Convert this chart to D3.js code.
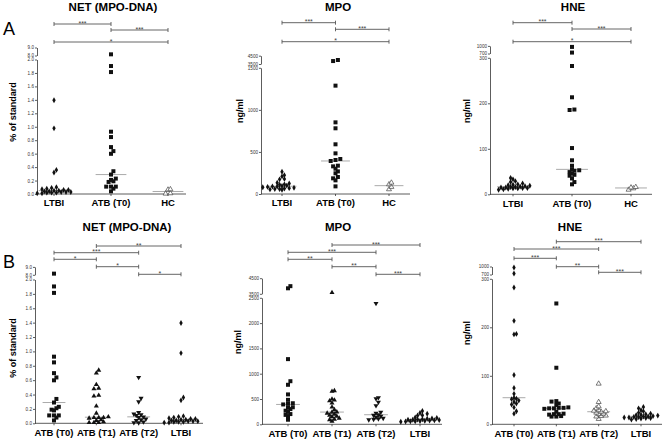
<!DOCTYPE html>
<html>
<head>
<meta charset="utf-8">
<script src="https://cdn.jsdelivr.net/npm/d3@7/dist/d3.min.js"></script>
<style>
  body { margin: 0; background: #fff; }
  text { font-family: "Liberation Sans", Arial, sans-serif; }
</style>
</head>
<body>
<svg id="fig" width="668" height="443"></svg>
<script>
// ---- data ----
var catsA = ['LTBI', 'ATB (T0)', 'HC'];
var catsB = ['ATB (T0)', 'ATB (T1)', 'ATB (T2)', 'LTBI'];

var netLTBI = [1.40, 0.98, 0.36, 0.32, 0.10, 0.09, 0.08, 0.07, 0.06, 0.06, 0.05, 0.05, 0.04, 0.04, 0.03, 0.03, 0.03, 0.02, 0.02, 0.02, 0.01, 0.01];
var netT0 = [8.1, 1.91, 1.82, 0.93, 0.85, 0.70, 0.64, 0.60, 0.34, 0.29, 0.23, 0.21, 0.19, 0.18, 0.11, 0.11, 0.11, 0.08, 0.04];
var netHC = [0.07, 0.065, 0.01, 0.005];
var netT1 = [0.74, 0.70, 0.54, 0.49, 0.48, 0.39, 0.38, 0.24, 0.14, 0.09, 0.08, 0.08, 0.08, 0.07, 0.05, 0.04, 0.02, 0.01, 0.01, 0.01];
var netT2 = [0.64, 0.35, 0.30, 0.15, 0.13, 0.12, 0.11, 0.09, 0.08, 0.06, 0.05, 0.04, 0.02, 0.01, 0.01];

var mpoLTBI = [265, 225, 210, 180, 175, 135, 125, 115, 110, 100, 95, 90, 90, 85, 80, 75, 70, 65, 60, 60, 55, 50];
var mpoT0 = [4000, 3850, 1293, 855, 784, 593, 485, 418, 406, 394, 338, 330, 302, 270, 247, 203, 187, 163, 91];
var mpoHC = [135, 115, 84, 56];
var mpoT1 = [3550, 667, 653, 500, 480, 465, 420, 340, 290, 245, 240, 220, 200, 180, 160, 150, 120, 100, 90, 60];
var mpoT2 = [2400, 530, 510, 440, 370, 240, 220, 190, 180, 160, 140, 120, 110, 100, 90];

var hneLTBI = [36, 33, 29, 27, 24, 22, 21, 20, 19, 18, 17, 16, 16, 15, 15, 14, 14, 13, 13, 12, 11, 10];
var hneT0 = [990, 720, 283, 214, 187, 186, 102, 75, 63, 55, 53, 52, 49, 46, 43, 41, 35, 27, 22];
var hneHC = [16, 10, 13, 15];
var hneT1 = [250, 117, 48, 47, 43, 40, 35, 34, 34, 33, 33, 32, 26, 22, 21, 21, 20, 17, 16, 16];
var hneT2 = [84, 46, 37, 33, 29, 28, 27, 26, 24, 22, 21, 18, 17, 16, 11];

// tick labels (lower and upper part of each broken axis)
var netTicksLow = [0, 0.2, 0.4, 0.6, 0.8, 1.0, 1.2, 1.4, 1.6, 1.8, 2.0];
var netTicksHigh = [8.0, 9.0];
var mpoTicksLowA = [0, 500, 1000, 1500];
var mpoTicksLowB = [0, 500, 1000, 1500, 2000, 2500];
var mpoTicksHigh = [3500, 4500];
var hneTicksLow = [0, 100, 200, 300];
var hneTicksHigh = [700, 1000];

// significance brackets
var pairsA = [[0, 1], [1, 2], [0, 2]];
var pairsB = [[1, 3], [0, 2], [0, 1], [1, 2], [2, 3]];
var starsNetA = ['***', '***', '*'];
var starsMpoA = ['***', '***', '*'];
var starsHneA = ['***', '***', '*'];
var starsNetB = ['**', '***', '*', '*', '*'];
var starsMpoB = ['***', '***', '**', '**', '***'];
var starsHneB = ['***', '***', '***', '**', '***'];

// ---- layout ----
var panels = [
  { title: 'NET (MPO-DNA)', tx: 113, ty: 11, ylab: '% of standard', lx: 13, ly: 112,
    ax: 37, axEnd: 186, cx: [54, 168], dom: [0, 2, 8, 9], rng: [194, 60, 55, 48.3],
    low: netTicksLow, high: netTicksHigh, fmt: '.1f',
    cats: catsA, groups: [netLTBI, netT0, netHC], shapes: ['dia', 'sq', 'tri'],
    pairs: pairsA, stars: starsNetA, by: [24, 30, 42] },
  { title: 'MPO', tx: 338, ty: 11, ylab: 'ng/ml', lx: 240, ly: 111,
    ax: 261, axEnd: 410, cx: [282, 389], dom: [0, 1500, 3500, 4500], rng: [194, 68.3, 63.5, 56.5],
    low: mpoTicksLowA, high: mpoTicksHigh, fmt: 'd',
    cats: catsA, groups: [mpoLTBI, mpoT0, mpoHC], shapes: ['dia', 'sq', 'tri'],
    pairs: pairsA, stars: starsMpoA, by: [22.7, 29.3, 41.7] },
  { title: 'HNE', tx: 573, ty: 11, ylab: 'ng/ml', lx: 467, ly: 111,
    ax: 490, axEnd: 652, cx: [513, 631], dom: [0, 300, 700, 1000], rng: [194.3, 58.3, 53, 46.7],
    low: hneTicksLow, high: hneTicksHigh, fmt: 'd',
    cats: catsA, groups: [hneLTBI, hneT0, hneHC], shapes: ['dia', 'sq', 'tri'],
    pairs: pairsA, stars: starsHneA, by: [22.7, 29, 41.7] },
  { title: 'NET (MPO-DNA)', tx: 127, ty: 231, ylab: '% of standard', lx: 13, ly: 348,
    ax: 35, axEnd: 203, cx: [54, 181], dom: [0, 2, 8, 9], rng: [423.3, 280, 274.3, 267.7],
    low: netTicksLow, high: netTicksHigh, fmt: '.1f',
    cats: catsB, groups: [netT0, netT1, netT2, netLTBI], shapes: ['sq', 'tup', 'tdn', 'dia'],
    pairs: pairsB, stars: starsNetB, by: [246, 252.7, 259.3, 266.7, 274.3] },
  { title: 'MPO', tx: 338, ty: 231, ylab: 'ng/ml', lx: 238, ly: 342,
    ax: 262, axEnd: 442, cx: [288, 420], dom: [0, 2500, 3500, 4500], rng: [424.3, 298.3, 293.3, 279],
    low: mpoTicksLowB, high: mpoTicksHigh, fmt: 'd',
    cats: catsB, groups: [mpoT0, mpoT1, mpoT2, mpoLTBI], shapes: ['sq', 'tup', 'tdn', 'dia'],
    pairs: pairsB, stars: starsMpoB, by: [245, 252.3, 259.3, 266.7, 274.3] },
  { title: 'HNE', tx: 570, ty: 231, ylab: 'ng/ml', lx: 467, ly: 333,
    ax: 492, axEnd: 662, cx: [514, 641], dom: [0, 300, 700, 1000], rng: [424.3, 279.3, 274, 267.3],
    low: hneTicksLow, high: hneTicksHigh, fmt: 'd',
    cats: catsB, groups: [hneT0, hneT1, hneT2, hneLTBI], shapes: ['dia', 'sq', 'tri', 'dia'],
    pairs: pairsB, stars: starsHneB, by: [241.7, 249, 258.3, 266.7, 272.3] }
];

var svg = d3.select('#fig');
var AXIS = '#333', GREY = '#555';

svg.append('text').attr('x', 3).attr('y', 35).style('font-size', '18px').text('A');
svg.append('text').attr('x', 3).attr('y', 268).style('font-size', '18px').text('B');

// Prism-like column scatter: points binned in thin rows, each row centred,
// a row is nudged half a step sideways if it sits on the row below
function swarm(vals, y, cx, step) {
  var base = y(0), h = 2.2, placed = [];
  var rows = d3.groups(vals.slice().sort(d3.ascending), function(v) {
    return Math.floor((base - y(v)) / h);
  });
  var shifts = [0, 0.5, -0.5, 1, -1, 1.5, -1.5];
  rows.forEach(function(r) {
    var n = r[1].length;
    for (var s = 0; s < shifts.length; s++) {
      var pts = r[1].map(function(v, j) {
        return { x: cx + (j - (n - 1) / 2 + shifts[s]) * step, y: y(v) };
      });
      var hit = pts.some(function(p) {
        return placed.some(function(q) {
          return Math.abs(q.x - p.x) < step * 0.45 && Math.abs(q.y - p.y) < 3.6;
        });
      });
      if (!hit || s === shifts.length - 1) { placed = placed.concat(pts); break; }
    }
  });
  return placed;
}

function marker(g, shape, p) {
  var s;
  if (shape === 'sq') {
    s = g.append('path').attr('d', d3.symbol(d3.symbolSquare, 16)()).style('fill', '#111');
  } else if (shape === 'dia') {
    s = g.append('path').attr('d', d3.symbol(d3.symbolDiamond, 10)()).style('fill', '#111');
  } else if (shape === 'tup' || shape === 'tdn') {
    s = g.append('path').attr('d', d3.symbol(d3.symbolTriangle, 11)()).style('fill', '#111');
  } else {
    s = g.append('path').attr('d', d3.symbol(d3.symbolTriangle2, 18)())
      .style('fill', '#fff').style('stroke', '#444').style('stroke-width', 0.7);
  }
  s.attr('transform', 'translate(' + p.x + ',' + p.y + ')' + (shape === 'tdn' ? ' rotate(180)' : ''));
}

panels.forEach(function(P) {
  var g = svg.append('g');
  var y = d3.scaleLinear().domain(P.dom).range(P.rng);
  var x = d3.scalePoint().domain(P.cats).range(P.cx);
  var step = x.step();

  g.append('text').attr('x', P.tx).attr('y', P.ty)
    .attr('text-anchor', 'middle')
    .style('font-size', '11.5px').style('font-weight', 'bold')
    .text(P.title);

  g.append('text')
    .attr('transform', 'translate(' + P.lx + ',' + P.ly + ') rotate(-90)')
    .attr('text-anchor', 'middle').attr('dy', '0.35em')
    .style('font-size', '9px').style('font-weight', 'bold')
    .text(P.ylab);

  // broken y axis: two segments
  var yLow = d3.scaleLinear().domain([P.dom[0], P.dom[1]]).range([y(P.dom[0]), y(P.dom[1]) - 0.5]);
  var yHigh = d3.scaleLinear().domain([P.dom[2], P.dom[3]]).range([y(P.dom[2]) + 0.5, y(P.dom[3]) - 0.8]);
  [[yLow, P.low], [yHigh, P.high]].forEach(function(a) {
    var ax = g.append('g')
      .attr('transform', 'translate(' + P.ax + ',0)')
      .call(d3.axisLeft(a[0]).tickValues(a[1]).tickSize(2).tickSizeOuter(0).tickPadding(1)
        .tickFormat(d3.format(P.fmt)));
    ax.selectAll('path,line').style('stroke', AXIS).style('stroke-width', 0.8);
    ax.selectAll('text').style('font-size', '4.6px').style('fill', AXIS)
      .style('font-family', '"Liberation Sans", Arial, sans-serif');
  });

  // x axis
  var xa = g.append('g').attr('transform', 'translate(0,' + y(0) + ')');
  xa.append('line').attr('x1', P.ax).attr('x2', P.axEnd)
    .style('stroke', AXIS).style('stroke-width', 0.8);
  xa.selectAll('.tk').data(P.cats).enter().append('line')
    .attr('x1', function(d) { return x(d); }).attr('x2', function(d) { return x(d); })
    .attr('y1', 0).attr('y2', 2).style('stroke', AXIS).style('stroke-width', 0.8);
  xa.selectAll('.lab').data(P.cats).enter().append('text')
    .attr('x', function(d) { return x(d); }).attr('y', 12.3)
    .attr('text-anchor', 'middle')
    .style('font-size', '9.5px').style('font-weight', 'bold')
    .text(function(d) { return d; });

  // points + median lines
  P.groups.forEach(function(vals, i) {
    var cx = x(P.cats[i]);
    var pts = swarm(vals, y, cx, 4.8);
    var med = d3.median(vals);
    g.append('line')
      .attr('x1', cx - step * 0.27).attr('x2', cx + step * 0.27)
      .attr('y1', y(med)).attr('y2', y(med))
      .style('stroke', '#aaa').style('stroke-width', 1);
    pts.forEach(function(p) { marker(g, P.shapes[i], p); });
  });

  // significance brackets
  P.pairs.forEach(function(pr, i) {
    var x1 = x(P.cats[pr[0]]), x2 = x(P.cats[pr[1]]), by = P.by[i];
    var b = g.append('g').style('stroke', GREY).style('stroke-width', 0.9);
    b.append('line').attr('x1', x1).attr('x2', x2).attr('y1', by).attr('y2', by);
    b.append('line').attr('x1', x1).attr('x2', x1).attr('y1', by - 2).attr('y2', by + 2);
    b.append('line').attr('x1', x2).attr('x2', x2).attr('y1', by - 2).attr('y2', by + 2);
    g.append('text').attr('x', (x1 + x2) / 2).attr('y', by + 1.6)
      .attr('text-anchor', 'middle')
      .style('font-size', '7px').style('fill', '#444')
      .text(P.stars[i]);
  });
});
</script>
</body>
</html>
